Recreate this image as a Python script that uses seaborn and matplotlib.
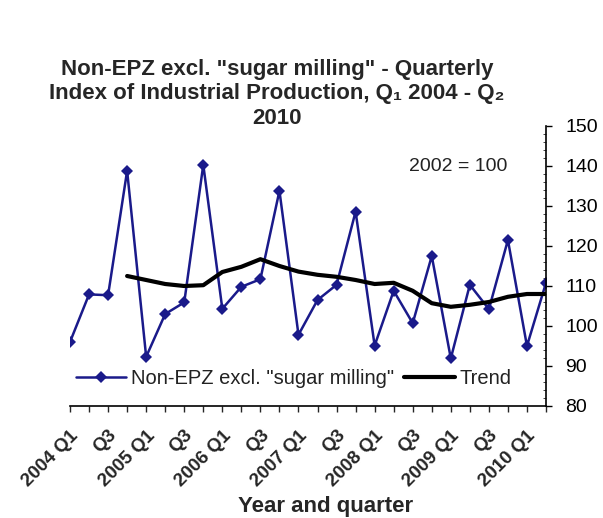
import matplotlib
matplotlib.use('Agg')
import matplotlib.pyplot as plt
import seaborn as sns
import pandas as pd
import numpy as np

# quarterly index, Q1 2004 - Q2 2010 (2002 = 100)
quarters = ['2004 Q1', 'Q2', 'Q3', 'Q4',
            '2005 Q1', 'Q2', 'Q3', 'Q4',
            '2006 Q1', 'Q2', 'Q3', 'Q4',
            '2007 Q1', 'Q2', 'Q3', 'Q4',
            '2008 Q1', 'Q2', 'Q3', 'Q4',
            '2009 Q1', 'Q2', 'Q3', 'Q4',
            '2010 Q1', 'Q2']
index_values = [96.0, 107.9, 107.7, 138.8,
                92.3, 103.0, 105.9, 140.3,
                104.3, 109.8, 111.7, 133.8,
                97.8, 106.5, 110.3, 128.6,
                95.1, 108.8, 100.7, 117.5,
                91.9, 110.3, 104.2, 121.5,
                95.0, 110.8]
trend_values = [np.nan, np.nan, np.nan, 112.5,
                111.5, 110.5, 110.0, 110.2,
                113.5, 114.8, 116.7, 115.0,
                113.6, 112.8, 112.3, 111.5,
                110.5, 110.8, 108.8, 105.7,
                104.8, 105.3, 106.0, 107.3,
                108.0, 108.0]

df = pd.DataFrame({'pos': range(len(quarters)),
                   'quarter': quarters,
                   'index': index_values,
                   'trend': trend_values})

sns.set_style('white')
plt.rcParams['font.family'] = ['Liberation Sans', 'DejaVu Sans']

fig = plt.figure(figsize=(6.03, 5.18), dpi=100)
ax = fig.add_axes([70 / 603, 1 - 406 / 518, 476 / 603, 280 / 518])

sns.lineplot(data=df, x='pos', y='index', ax=ax, color='#1a1a8a', linewidth=1.8,
             marker='D', markersize=6, markeredgewidth=0,
             label='Non-EPZ excl. "sugar milling"')
sns.lineplot(data=df.dropna(), x='pos', y='trend', ax=ax, color='black',
             linewidth=3, label='Trend')

ax.set_xlim(0, len(quarters) - 1)
ax.set_ylim(80, 150)
ax.set_xlabel('')
ax.set_ylabel('')

# y axis on the right
ax.yaxis.tick_right()
ax.set_yticks(range(80, 151, 10))
ax.set_yticks(range(80, 151, 2), minor=True)
ax.tick_params(axis='y', which='major', direction='out', length=4, width=1,
               labelsize=14, colors='black', pad=10)
ax.tick_params(axis='y', which='minor', direction='in', length=2, width=0.6,
               right=True)

# category ticks every quarter, labels every second one
ax.set_xticks(df['pos'])
ax.set_xticklabels([q if i % 2 == 0 else '' for i, q in enumerate(quarters)],
                   rotation=45, ha='right', rotation_mode='anchor',
                   fontweight='bold', fontsize=13.5)
ax.tick_params(axis='x', direction='out', length=4, width=1, bottom=True,
               pad=11)

for side in ['top', 'left']:
    ax.spines[side].set_visible(False)
for side in ['right', 'bottom']:
    ax.spines[side].set_color('black')
    ax.spines[side].set_linewidth(1.2)

leg = ax.legend(loc='lower left', ncol=2, frameon=False, fontsize=14.5,
                bbox_to_anchor=(-0.005, 0.035), handlelength=2.5,
                columnspacing=0.5, handletextpad=0.25, borderaxespad=0)
for t in leg.get_texts():
    t.set_color('#222222')

ax.text(0.815, 0.855, '2002 = 100', transform=ax.transAxes, ha='center',
        va='center', fontsize=14, color='#222222')

fig.text(277 / 603, 1 - 94 / 518,
         'Non-EPZ excl. "sugar milling" - Quarterly\n'
         'Index of Industrial Production, Q\u2081 2004 - Q\u2082\n2010',
         ha='center', va='center', fontsize=16, fontweight='bold',
         linespacing=1.25)
fig.text(326 / 603, 1 - 517 / 518, 'Year and quarter', ha='center',
         va='bottom', fontsize=16, fontweight='bold')

fig.savefig('out.png', dpi=100)
